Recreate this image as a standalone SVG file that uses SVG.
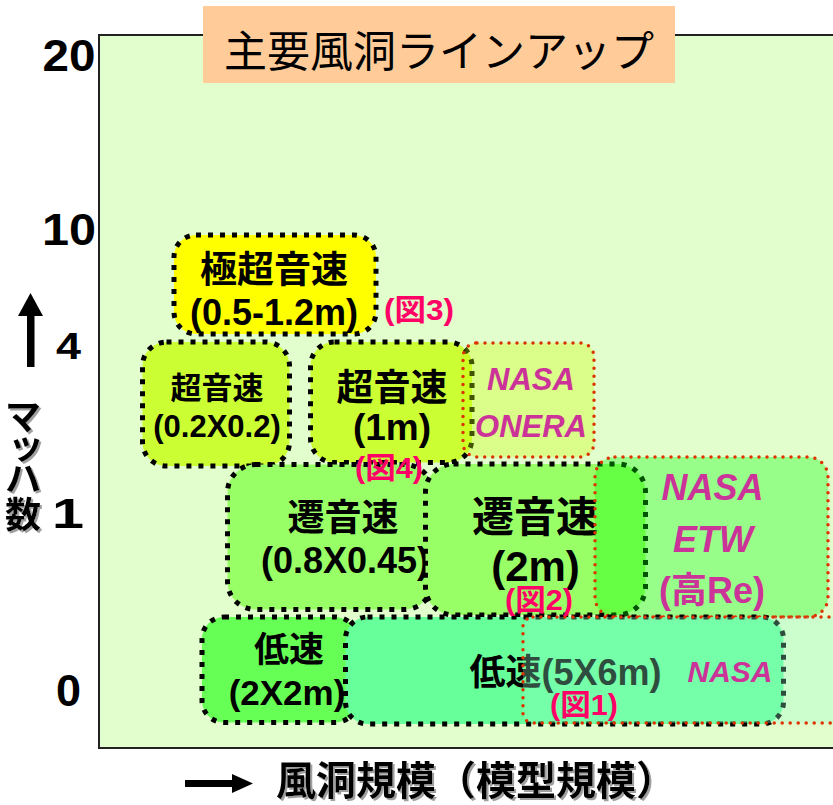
<svg xmlns="http://www.w3.org/2000/svg" width="833" height="805" viewBox="0 0 833 805">
<defs>
<style>
.t{font-family:"Liberation Sans","Noto Sans CJK JP",sans-serif;font-weight:bold;text-anchor:middle;fill:#000}
.jp{font-family:"Noto Sans CJK JP",sans-serif}
.nb{stroke:#000;stroke-width:5;stroke-dasharray:5 7}
.rd{stroke:#dd3300;stroke-width:3.5;stroke-linecap:round;stroke-dasharray:0 8}
.pk{fill:#ff0066;font-size:30px}
.mg{fill:#cc3399}
.it{font-style:italic}
</style>
<filter id="shadow" x="-10%" y="-10%" width="130%" height="130%">
<feOffset in="SourceAlpha" dx="2" dy="2" result="off"/>
<feFlood flood-color="#a0a0a0"/>
<feComposite in2="off" operator="in" result="sh"/>
<feMerge><feMergeNode in="sh"/><feMergeNode in="SourceGraphic"/></feMerge>
</filter>
</defs>
<rect x="0" y="0" width="833" height="805" fill="#ffffff"/>
<g id="plot">
<rect x="99" y="35" width="760" height="713" fill="#e1fecc" stroke="#222" stroke-width="2"/>
</g>
<g id="title">
<rect x="203" y="6" width="472" height="77" fill="#ffcc99"/>
<text class="jp" x="439" y="67" font-size="43" text-anchor="middle" fill="#000">主要風洞ラインアップ</text>
</g>
<g id="axes">
<text class="t" x="69" y="71" font-size="45" textLength="53" lengthAdjust="spacingAndGlyphs">20</text>
<text class="t" x="69" y="245" font-size="45" textLength="54" lengthAdjust="spacingAndGlyphs">10</text>
<text class="t" x="68.5" y="359" font-size="36" textLength="25" lengthAdjust="spacingAndGlyphs">4</text>
<text class="t" x="68" y="528" font-size="43" textLength="32" lengthAdjust="spacingAndGlyphs">1</text>
<text class="t" x="68.5" y="706" font-size="45">0</text>
<polygon points="30.5,293 18,316 43,316" fill="#000"/>
<rect x="27" y="315" width="7.5" height="52" fill="#000"/>
<g font-size="36" filter="url(#shadow)">
<text class="t jp" x="23" y="430" font-weight="bold">マ</text>
<text class="t jp" x="26" y="459" font-weight="bold">ッ</text>
<text class="t jp" x="23" y="492" font-weight="bold">ハ</text>
<text class="t jp" x="23" y="528" font-weight="bold">数</text>
</g>
<rect x="185" y="780" width="49" height="7" fill="#000"/>
<polygon points="232,774 253,783.5 232,793" fill="#000"/>
<text class="t jp" x="276" y="795" font-size="40" style="text-anchor:start" filter="url(#shadow)">風洞規模（模型規模）</text>
</g>
<g id="n-hypersonic">
<rect class="nb" x="174" y="235" width="202" height="99" rx="22" fill="#ffff00"/>
<text class="t" x="274" y="283" font-size="37">極超音速</text>
<text class="t" x="274" y="325" font-size="36">(0.5-1.2m)</text>
</g>
<g id="n-supersonic-small">
<rect class="nb" x="142.5" y="342" width="147" height="124" rx="24" fill="#ccff33"/>
<text class="t" x="217" y="399" font-size="31">超音速</text>
<text class="t" x="217" y="437" font-size="31">(0.2X0.2)</text>
</g>
<g id="n-supersonic-1m">
<rect class="nb" x="310.5" y="342" width="161.5" height="120.5" rx="24" fill="#ccff33"/>
<text class="t" x="392" y="401" font-size="37">超音速</text>
<text class="t" x="392" y="440" font-size="37">(1m)</text>
</g>
<g id="n-nasa-onera">
<rect class="rd" x="463" y="343" width="131" height="114" rx="14" fill="#ccff00" fill-opacity="0.33"/>
<text class="t mg it" x="531" y="390" font-size="31">NASA</text>
<text class="t mg it" x="531" y="437" font-size="31">ONERA</text>
</g>
<g id="n-transonic-small">
<rect class="nb" x="227.5" y="464.5" width="205" height="145" rx="28" fill="#99ff66"/>
<text class="t" x="343" y="531" font-size="37">遷音速</text>
<text class="t" x="345" y="573" font-size="36">(0.8X0.45)</text>
</g>
<g id="n-transonic-2m">
<rect class="nb" x="425.5" y="464" width="220" height="151" rx="28" fill="#99ff66"/>
<text class="t" x="535" y="532" font-size="42">遷音速</text>
<text class="t" x="535.5" y="581" font-size="42">(2m)</text>
</g>
<g id="n-nasa-etw">
<rect class="rd" x="595" y="457" width="233" height="160" rx="20" fill="#00ff00" fill-opacity="0.33"/>
<text class="t mg it" x="712.5" y="500" font-size="36">NASA</text>
<text class="t mg it" x="713" y="552" font-size="36">ETW</text>
<text class="t mg" x="712" y="603" font-size="36">(高Re)</text>
</g>
<g id="n-lowspeed-small">
<rect class="nb" x="202" y="617" width="155" height="105.5" rx="22" fill="#66ff55"/>
<text class="t" x="289" y="662" font-size="35">低速</text>
<text class="t" x="287" y="705" font-size="35">(2X2m)</text>
</g>
<g id="n-lowspeed-big">
<rect class="nb" x="345.5" y="617" width="438" height="107" rx="22" fill="#66ff99"/>
<text class="t" x="565.5" y="685" font-size="36">低速(5X6m)</text>
</g>
<g id="n-nasa-low">
<rect class="rd" x="523" y="617" width="330" height="106" rx="10" fill="#99ffcc" fill-opacity="0.3"/>
<text class="t mg it" x="730" y="682" font-size="30">NASA</text>
</g>
<g id="refs">
<text class="t pk" x="419" y="320" textLength="70" lengthAdjust="spacingAndGlyphs">(図3)</text>
<text class="t pk" x="389" y="478" textLength="68" lengthAdjust="spacingAndGlyphs">(図4)</text>
<text class="t pk" x="539" y="610" textLength="68" lengthAdjust="spacingAndGlyphs">(図2)</text>
<text class="t pk" x="584" y="715" textLength="68" lengthAdjust="spacingAndGlyphs">(図1)</text>
</g>
</svg>
